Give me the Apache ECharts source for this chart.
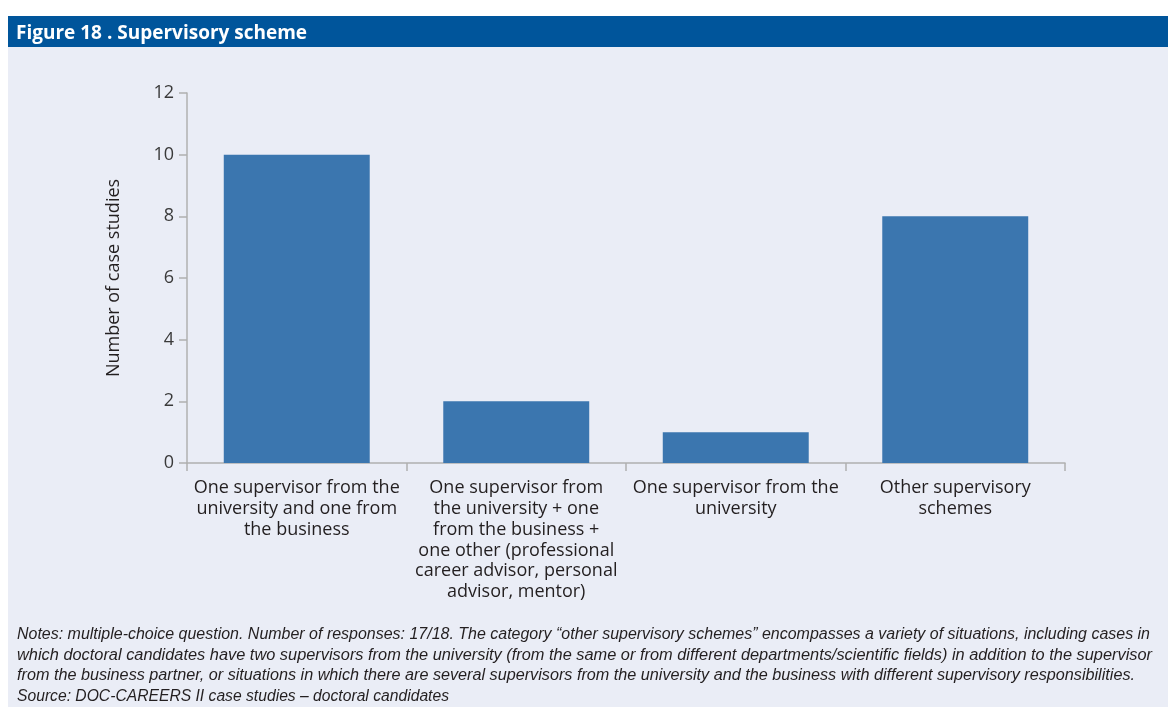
<!DOCTYPE html>
<html>
<head>
<meta charset="utf-8">
<script src="https://cdn.jsdelivr.net/npm/echarts@6/dist/echarts.min.js"></script>
<style>
  html, body { margin: 0; padding: 0; background: #ffffff; }
  #chart { width: 1168px; height: 707px; }
</style>
</head>
<body>
<div id="chart"></div>
<script>
// Supervisory scheme categories and counts
const categories = [
  'One supervisor from the\nuniversity and one from\nthe business',
  'One supervisor from\nthe university + one\nfrom the business +\none other (professional\ncareer advisor, personal\nadvisor, mentor)',
  'One supervisor from the\nuniversity',
  'Other supervisory\nschemes'
];
const counts = [10, 2, 1, 8];
const yTicks = { min: 0, max: 12, interval: 2 };

const titleText = 'Figure 18 . Supervisory scheme';
const noteLines = [
  'Notes: multiple-choice question. Number of responses: 17/18. The category \u201cother supervisory schemes\u201d encompasses a variety of situations, including cases in',
  'which doctoral candidates have two supervisors from the university (from the same or from different departments/scientific fields) in addition to the supervisor',
  'from the business partner, or situations in which there are several supervisors from the university and the business with different supervisory responsibilities.',
  'Source: DOC-CAREERS II case studies \u2013 doctoral candidates'
];
const noteWidths = [1133, 1135, 1118, 432];

const sansFamily = '"Open Sans", "Noto Sans", sans-serif';
const noteFont = 'italic 16px "Liberation Sans Narrow", "Liberation Sans", Arial, sans-serif';
const measureCtx = document.createElement('canvas').getContext('2d');
measureCtx.font = noteFont;

// Note lines are fitted to the width of the panel
const notes = noteLines.map(function (line, i) {
  const w = measureCtx.measureText(line).width;
  return {
    type: 'text',
    left: 17,
    top: 626.5 + i * 20.7,
    scaleX: noteWidths[i] / w,
    style: {
      text: line,
      font: noteFont,
      fill: '#231f20'
    }
  };
});

const chart = echarts.init(document.getElementById('chart'), null, { renderer: 'canvas' });
chart.setOption({
  backgroundColor: '#ffffff',
  animation: false,
  graphic: [
    { type: 'rect', shape: { x: 8, y: 47, width: 1160, height: 660 }, style: { fill: '#eaedf6' }, z: -10 },
    { type: 'rect', shape: { x: 8, y: 16, width: 1160, height: 31 }, style: { fill: '#00559b' }, z: -10 },
    {
      type: 'text', left: 16, top: 24.5,
      style: { text: titleText, font: 'bold 19px ' + sansFamily, fill: '#ffffff' }
    }
  ].concat(notes),
  grid: { left: 187, right: 103, top: 93, bottom: 244 },
  xAxis: {
    type: 'category',
    data: categories,
    boundaryGap: true,
    axisLine: { lineStyle: { color: '#b0b0b0', width: 1.5 } },
    axisTick: { show: true, length: 8, lineStyle: { color: '#b0b0b0', width: 1.5 } },
    axisLabel: {
      interval: 0,
      margin: 15,
      fontSize: 18,
      lineHeight: 20.7,
      color: '#231f20',
      fontFamily: sansFamily,
      align: 'center'
    }
  },
  yAxis: {
    type: 'value',
    min: yTicks.min,
    max: yTicks.max,
    interval: yTicks.interval,
    name: 'Number of case studies',
    nameLocation: 'middle',
    nameRotate: 90,
    nameGap: 64,
    nameTextStyle: { fontSize: 18, color: '#231f20', fontFamily: sansFamily },
    axisLine: { show: true, lineStyle: { color: '#b0b0b0', width: 1.5 } },
    axisTick: { show: true, length: 8, lineStyle: { color: '#b0b0b0', width: 1.5 } },
    splitLine: { show: false },
    axisLabel: {
      margin: 13,
      fontSize: 18,
      color: '#3a3a3a',
      fontFamily: sansFamily
    }
  },
  series: [{
    type: 'bar',
    data: counts,
    barWidth: '66.5%',
    itemStyle: { color: '#3b76af' }
  }]
});
</script>
</body>
</html>
